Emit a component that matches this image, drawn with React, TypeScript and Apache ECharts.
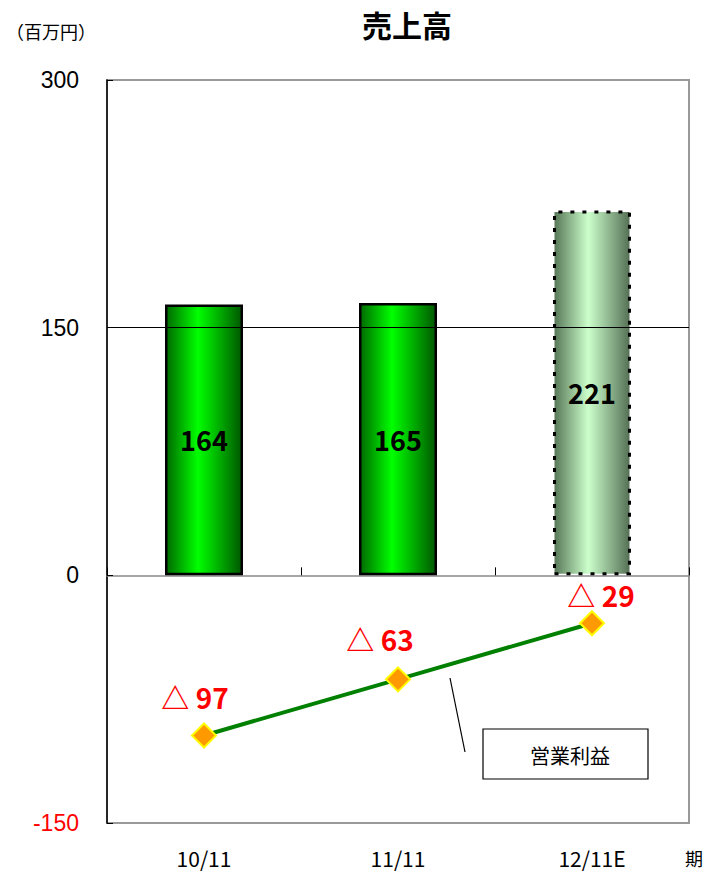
import React, { useEffect, useRef } from "react";
import * as echarts from "echarts";

// Fiscal periods (last one is an estimate)
const periods = ["10/11", "11/11", "12/11E"];
// Net sales, million yen
const sales = [164, 165, 221];
// Operating income, million yen (losses are negative)
const operatingIncome = [-97, -63, -29];
// Value-axis range
const yMin = -150;
const yMax = 300;
const yStep = 150;

const JP = '"Noto Sans CJK JP", "Noto Sans", sans-serif';
const NUM = '"Liberation Sans", Arial, sans-serif';

// Per-point nudges for the loss labels
const lossLabelOffsets: [number, number][] = [
  [-9, -6],
  [-18, -8],
  [9, 4],
];

export default function App() {
  const ref = useRef<HTMLDivElement>(null);

  useEffect(() => {
    if (!ref.current) return;
    const chart = echarts.init(ref.current, undefined, { renderer: "svg" });

    const solidFill = new echarts.graphic.LinearGradient(0, 0, 1, 0, [
      { offset: 0, color: "#006a00" },
      { offset: 0.42, color: "#00ff00" },
      { offset: 1, color: "#005800" },
    ]);
    const estimateFill = new echarts.graphic.LinearGradient(0, 0, 1, 0, [
      { offset: 0, color: "#587858" },
      { offset: 0.45, color: "#ccffcc" },
      { offset: 1, color: "#557055" },
    ]);

    const barData = sales.map((v, i) => {
      const isEstimate = i === sales.length - 1;
      return {
        value: v,
        itemStyle: isEstimate
          ? { color: estimateFill, borderColor: "#000", borderWidth: 3, borderType: [4, 8] as any }
          : { color: solidFill, borderColor: "#000", borderWidth: 2.5 },
      };
    });

    const lineData = operatingIncome.map((v, i) => ({
      value: v,
      label: { offset: lossLabelOffsets[i] },
    }));

    chart.setOption({
      animation: false,
      backgroundColor: "#fff",
      grid: {
        left: 107,
        right: 18,
        top: 80,
        bottom: 50,
        show: true,
        borderColor: "#999",
        borderWidth: 2,
        backgroundColor: "transparent",
      },
      xAxis: [
        {
          type: "category",
          data: periods,
          position: "top",
          axisLine: { onZero: true, lineStyle: { color: "#888", width: 1.5 } },
          axisTick: { show: true, length: 8, lineStyle: { color: "#000", width: 1 } },
          axisLabel: { show: false },
          splitLine: { show: false },
        },
        {
          type: "category",
          data: periods,
          position: "bottom",
          axisLine: { show: false, onZero: false },
          axisTick: { show: false },
          axisLabel: {
            margin: 24,
            fontSize: 21,
            fontFamily: JP,
            color: "#000",
          },
        },
      ],
      yAxis: {
        type: "value",
        min: yMin,
        max: yMax,
        interval: yStep,
        axisLine: { show: true, lineStyle: { color: "#000", width: 1.5 } },
        axisTick: { show: true, inside: true, length: 6, lineStyle: { color: "#000" } },
        axisLabel: {
          margin: 28,
          fontSize: 23,
          fontFamily: NUM,
          color: (value: any) => (Number(value) < 0 ? "#ff0000" : "#000"),
          formatter: (v: number) => (v < 0 ? "-" + Math.abs(v) : String(v)),
        },
        splitLine: { show: false },
      },
      series: [
        {
          name: "売上高",
          type: "bar",
          xAxisIndex: 0,
          data: barData,
          barWidth: 78,
          label: {
            show: true,
            position: "inside",
            color: "#000",
            fontSize: 27,
            fontWeight: "bold",
            fontFamily: JP,
          },
          markLine: {
            silent: true,
            symbol: "none",
            label: { show: false },
            lineStyle: { color: "#000", width: 1, type: "solid" },
            data: [{ yAxis: yStep }],
          },
          z: 2,
        },
        {
          name: "営業利益",
          type: "line",
          xAxisIndex: 0,
          data: lineData,
          symbol: "diamond",
          symbolSize: 24,
          lineStyle: { color: "#008000", width: 4 },
          itemStyle: { color: "#ff9900", borderColor: "#ffff00", borderWidth: 2 },
          label: {
            show: true,
            position: "top",
            distance: 5,
            color: "#ff0000",
            fontSize: 28,
            fontWeight: "bold",
            fontFamily: JP,
            formatter: (p: any) => "△ " + Math.abs(p.value),
          },
          z: 5,
        },
      ],
      graphic: [
        {
          type: "text",
          left: 6,
          top: 22,
          style: { text: "（百万円）", fontSize: 18, fontFamily: JP, fill: "#000" },
        },
        {
          type: "text",
          x: 407,
          y: 24,
          style: {
            text: "売上高",
            fontSize: 30,
            fontWeight: "bold",
            fontFamily: JP,
            fill: "#000",
            align: "center",
            verticalAlign: "middle",
          },
        },
        {
          type: "text",
          x: 694,
          y: 858,
          style: {
            text: "期",
            fontSize: 18,
            fontFamily: JP,
            fill: "#000",
            align: "center",
            verticalAlign: "middle",
          },
        },
        {
          type: "line",
          shape: { x1: 450, y1: 678, x2: 465, y2: 752 },
          style: { stroke: "#000", lineWidth: 1.2 },
          z: 10,
        },
        {
          type: "rect",
          shape: { x: 483, y: 729, width: 165, height: 50 },
          style: { fill: "#fff", stroke: "#000", lineWidth: 1.2 },
          z: 10,
        },
        {
          type: "text",
          x: 570,
          y: 755,
          style: {
            text: "営業利益",
            fontSize: 20,
            fontFamily: JP,
            fill: "#000",
            align: "center",
            verticalAlign: "middle",
          },
          z: 11,
        },
      ],
    });

    return () => chart.dispose();
  }, []);

  return (
    <div
      ref={ref}
      style={{ position: "absolute", left: 0, top: 0, width: 707, height: 873 }}
    />
  );
}
